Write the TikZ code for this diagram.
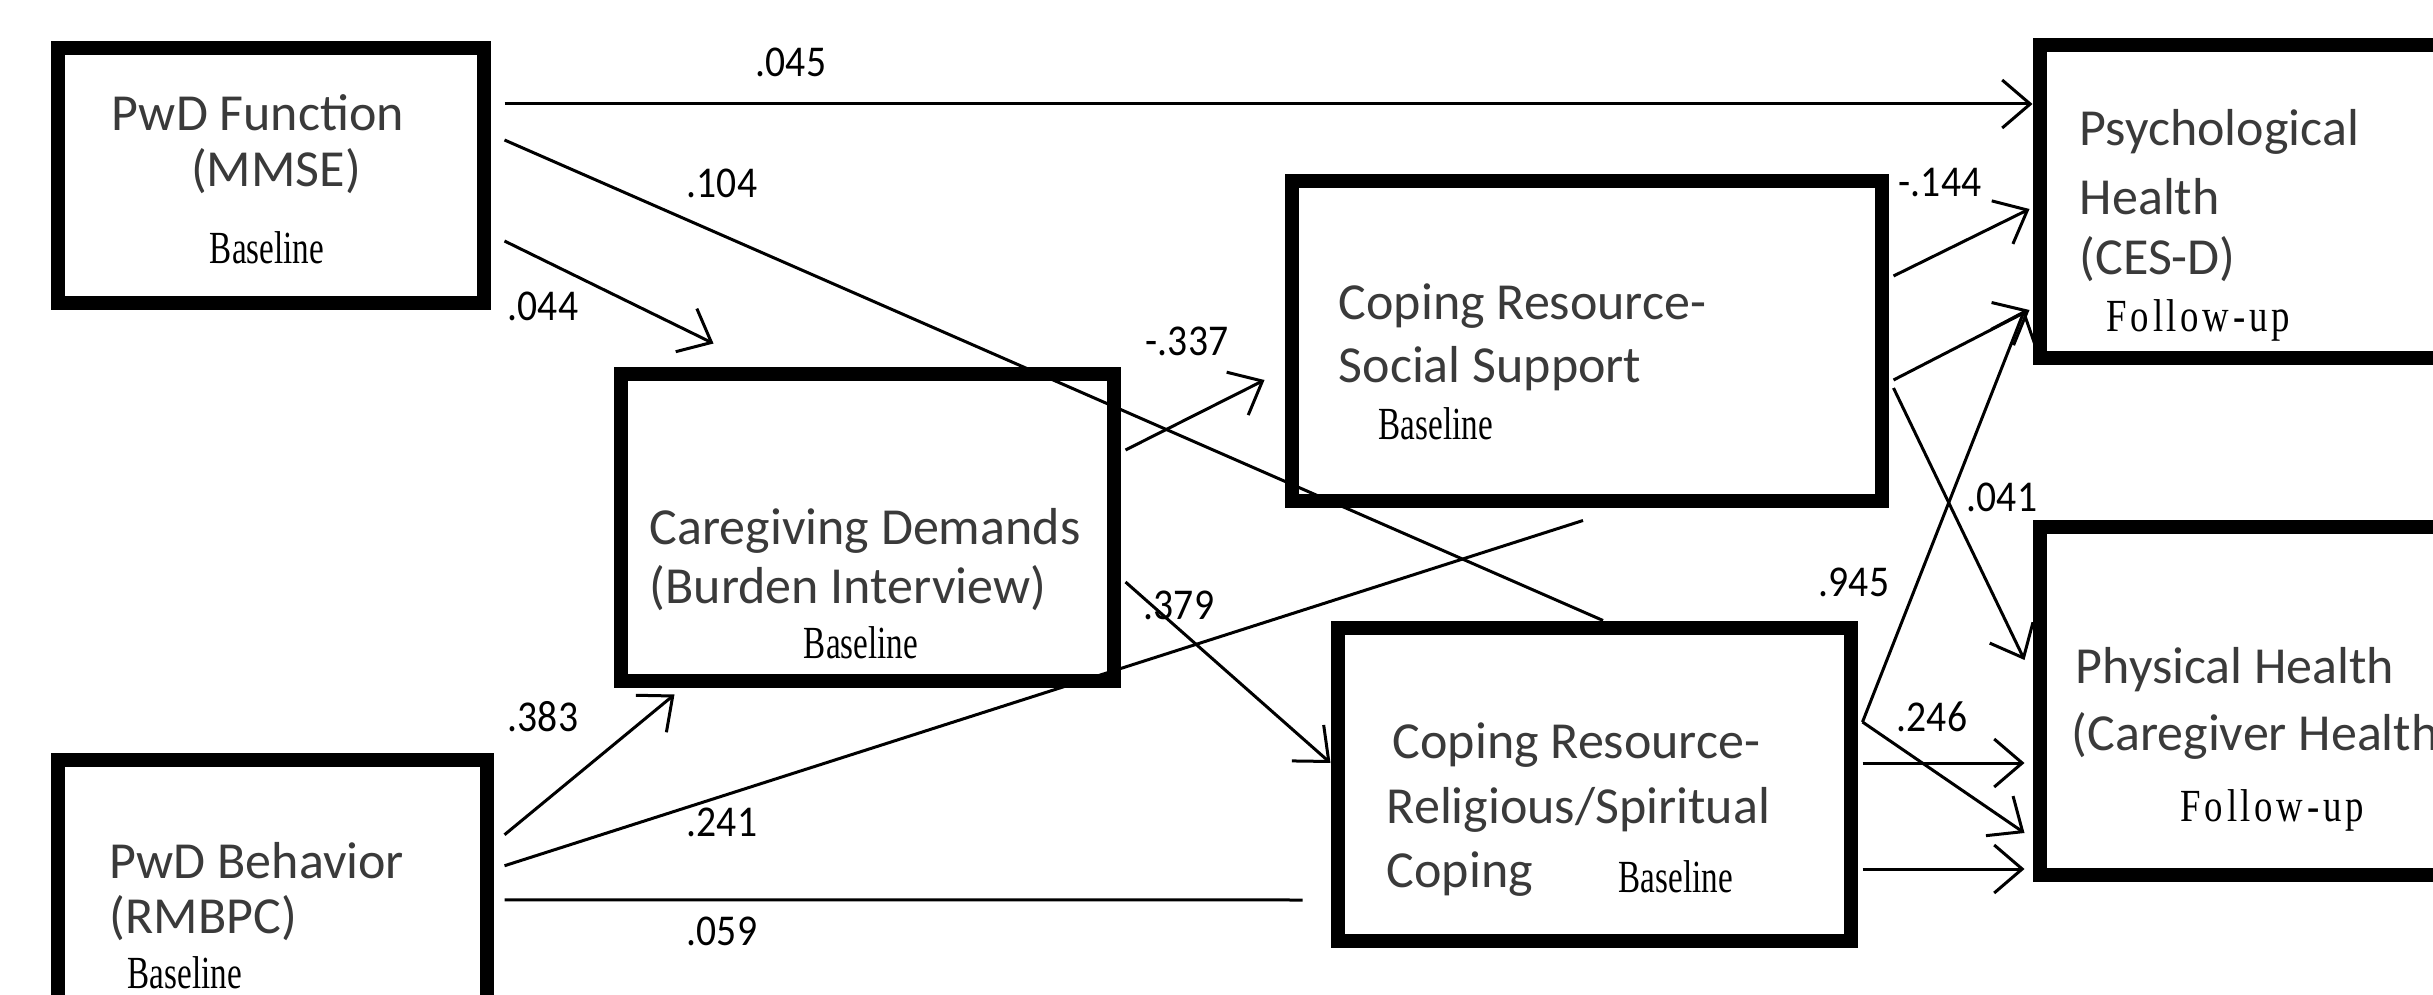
\documentclass[tikz,border=0pt]{standalone}
\usepackage{fontspec}
\setmainfont{Carlito}
\newfontfamily\numfont[FakeStretch=0.9]{Carlito}
\newfontfamily\basefont[FakeStretch=0.72]{Liberation Serif}
\newfontfamily\fufont[FakeStretch=0.8,LetterSpace=8]{Liberation Serif}
\usetikzlibrary{arrows.meta,calc}
\definecolor{txtgray}{HTML}{3A3A3A}
\begin{document}
\begin{tikzpicture}[x=0.25pt,y=-0.25pt,
  box/.style={draw, line width=3.5pt, inner sep=0pt},
  lbl/.style={font=\fontsize{13}{15}\selectfont, text=txtgray, inner sep=0pt},
  bl/.style={font=\basefont\fontsize{11.5}{13}\selectfont, inner sep=0pt},
  fu/.style={font=\fufont\fontsize{11.5}{13}\selectfont, inner sep=0pt},
  num/.style={font=\numfont\fontsize{11}{12}\selectfont, inner sep=0pt},
  con/.style={line width=0.75pt},
  arr/.style={con, -{Straight Barb[length=7pt,width=12pt,line width=0.75pt]}}]
\useasboundingbox (0,0) rectangle (2433,995);
\clip (0,0) rectangle (2433,995);
\fill[white] (0,0) rectangle (2433,995);
% boxes
\node[box, minimum width=106.5pt, minimum height=63.75pt] (f) at (270.5,176) {};
\node[box, minimum width=123.25pt, minimum height=76.5pt] (c) at (867,527.5) {};
\node[box, minimum width=147.5pt, minimum height=79.75pt] (s) at (1586.5,341) {};
\node[box, minimum width=128.25pt, minimum height=78.25pt] (r) at (1594,784) {};
\node[box, minimum width=106pt, minimum height=78.25pt] (p) at (2251.5,202) {};
\node[box, minimum width=106pt, minimum height=87pt] (h) at (2251.5,700.5) {};
\node[box, minimum width=107.25pt, minimum height=67.5pt] (b) at (272,894.75) {};
% texts
\node[lbl] (f1) at (258,113) {PwD Function};
\node[lbl] (f2) at (276,171) {(MMSE)};
\node[bl] (f3) at (267,248) {Baseline};
\node[lbl, anchor=west] (c1) at (649,531) {Caregiving Demands};
\node[lbl, anchor=west] (c2) at (649,588) {(Burden Interview)};
\node[bl] (c3) at (861,643) {Baseline};
\node[lbl, anchor=west] (s1) at (1338,306) {Coping Resource-};
\node[lbl, anchor=west] (s2) at (1338,369) {Social Support};
\node[bl, anchor=west] (s3) at (1378,424) {Baseline};
\node[lbl, anchor=west] (r1) at (1392,745) {Coping Resource-};
\node[lbl, anchor=west] (r2) at (1386,810) {Religious/Spiritual};
\node[lbl, anchor=west] (r3) at (1386,874) {Coping};
\node[bl, anchor=west] (r4) at (1618,877) {Baseline};
\node[lbl, anchor=west] (p1) at (2079,132) {Psychological};
\node[lbl, anchor=west] (p2) at (2079,197) {Health};
\node[lbl, anchor=west] (p3) at (2079,259) {(CES-D)};
\node[fu, anchor=west] (p4) at (2106,320) {Follow-up};
\node[lbl, anchor=west] (h1) at (2075,670) {Physical Health};
\node[lbl, anchor=west] (h2) at (2071,736) {(Caregiver Health)};
\node[fu, anchor=west] (h3) at (2180,810) {Follow-up};
\node[lbl, anchor=west] (b1) at (109,861) {PwD Behavior};
\node[lbl, anchor=west] (b2) at (109,918) {(RMBPC)};
\node[bl, anchor=west] (b3) at (127,973) {Baseline};
% free ends
\coordinate (e044) at ($(c.north west)+(100,-24)$);
\coordinate (e337) at ($(s.west)+(-20,39)$);
\coordinate (e241) at ($(s.south)+(-3.5,13)$);
\coordinate (e059) at ($(r.west)+(-28,116)$);
% connectors
\draw[arr] ($(f.east)+(14,-72)$) -- ($(p.west)+(0,-98)$);
\draw[con] ($(f.east)+(14,-36)$) -- ($(r.north)+(9,0)$);
\draw[arr] ($(f.east)+(14,65)$) -- (e044);
\draw[arr] ($(c.east)+(5,-77.5)$) -- (e337);
\draw[arr] ($(c.east)+(5,54.5)$) -- ($(r.west)+(0,-21)$);
\draw[con] ($(b.east)+(11,-29)$) -- (e241);
\draw[arr] ($(b.east)+(11,-60)$) -- ($(c.south west)+(61,7)$);
\draw[con] ($(b.east)+(11,5)$) -- (e059);
\draw[arr] ($(s.east)+(5,-65)$) -- ($(p.west)+(-3,7)$);
\draw[arr] ($(s.east)+(5,39)$) -- ($(p.west)+(-3,108)$);
\draw[arr] ($(s.east)+(5,47)$) -- ($(h.west)+(-8,-40.5)$);
\draw[arr] ($(r.east)+(5,-62)$) -- ($(p.west)+(-8,108)$);
\draw[arr] ($(r.east)+(5,-62)$) -- ($(h.west)+(-8,132.5)$);
\draw[arr] ($(r.east)+(5,-21)$) -- ($(h.west)+(-8,62.5)$);
\draw[arr] ($(r.east)+(5,85)$) -- ($(h.west)+(-8,168.5)$);
% labels
\node[num] (l045) at (791,62) {.045};
\node[num] (l104) at (722,183) {.104};
\node[num] (l044) at (543,306) {.044};
\node[num] (l337) at (1187,341) {-.337};
\node[num] (l379) at (1179,605) {.379};
\node[num] (l241) at (722,822) {.241};
\node[num] (l383) at (543,717) {.383};
\node[num] (l059) at (722,931) {.059};
\node[num] (l144) at (1940,183) {-.144};
\node[num] (l041) at (2002,497) {.041};
\node[num] (l945) at (1854,582) {.945};
\node[num] (l246) at (1932,717) {.246};
\end{tikzpicture}
\end{document}
